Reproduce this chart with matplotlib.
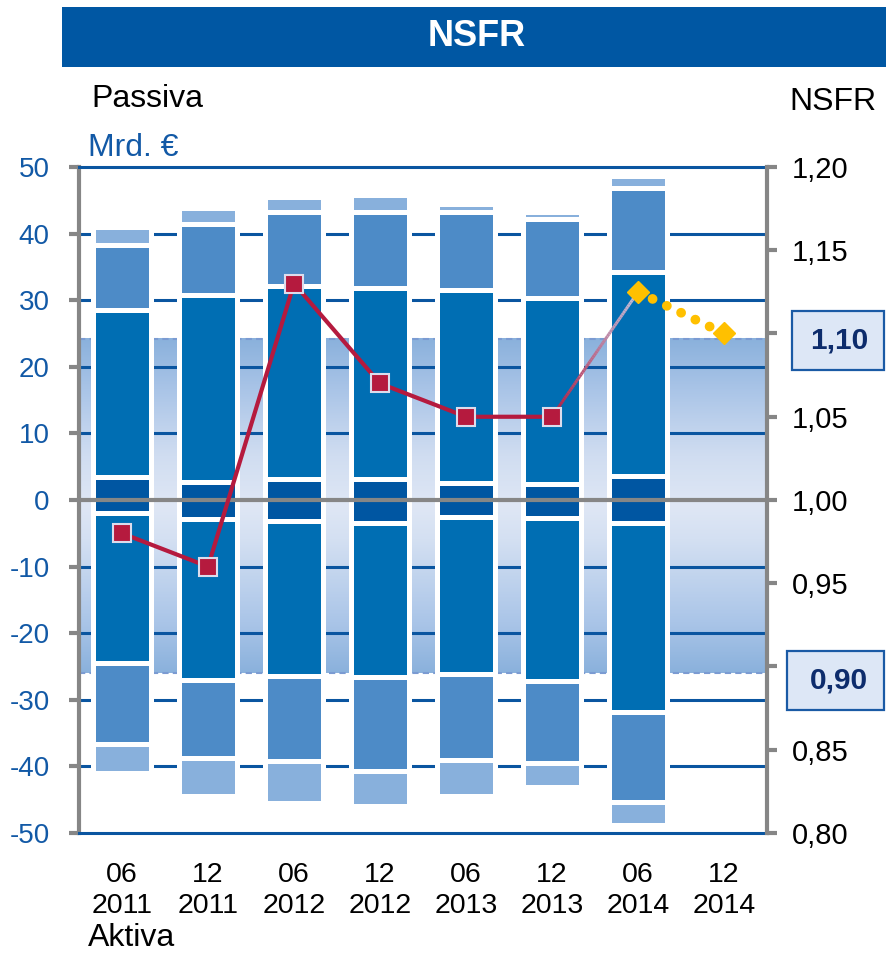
import matplotlib
matplotlib.use('Agg')
import matplotlib.pyplot as plt
import numpy as np
from matplotlib.colors import LinearSegmentedColormap, to_rgb
from matplotlib.collections import LineCollection
from matplotlib.patches import Rectangle

plt.rcParams['font.family'] = ['Liberation Sans', 'DejaVu Sans']
plt.rcParams['axes.unicode_minus'] = False

# --- data (Mrd. EUR) ---
periods = ['06\n2011', '12\n2011', '06\n2012', '12\n2012',
           '06\n2013', '12\n2013', '06\n2014', '12\n2014']

# Passiva, stacked upward from the dark core segment
pas_navy = [3.4, 2.7, 3.2, 3.2, 2.5, 2.35, 3.65]
pas_mid = [25.2, 28.1, 28.9, 28.6, 29.0, 27.95, 30.65]
pas_light = [9.7, 10.6, 11.1, 11.5, 11.8, 11.9, 12.6]
pas_pale = [2.7, 2.5, 2.3, 2.5, 1.1, 1.0, 1.8]

# Aktiva, stacked downward
akt_navy = [2.0, 2.9, 3.1, 3.4, 2.6, 2.7, 3.4]
akt_mid = [22.5, 24.1, 23.4, 23.2, 23.6, 24.55, 28.45]
akt_light = [12.2, 11.8, 12.7, 14.1, 12.8, 12.2, 13.55]
akt_pale = [4.3, 5.7, 6.3, 5.2, 5.4, 3.65, 3.4]

# NSFR ratio (right axis)
nsfr = [0.98, 0.96, 1.13, 1.07, 1.05, 1.05]
nsfr_fc = [1.125, 1.10]          # 06 2014 and 12 2014 (yellow)
band_top, band_bottom = 24.2, -26.0

# --- colours ---
c_navy = '#0056a2'
c_mid = '#006eb3'
c_light = '#4d8bc7'
c_pale = '#88b0dc'
c_grid = '#0a55a0'
c_gray = '#868686'
c_red = '#b51a3e'
c_yellow = '#ffc000'
c_blue_txt = '#1259a6'

W, H = 886, 956
fig = plt.figure(figsize=(W / 100, H / 100), dpi=100)

def fx(px):
    return px / W

def fy(py):
    return 1 - py / H

ax = fig.add_axes([fx(79), fy(833), (767 - 79) / W, (833 - 167) / H])
x = np.arange(len(periods))
xb = x[:len(pas_navy)]

# gradient band between the 0,90 and 1,10 marks
cmap = LinearSegmentedColormap.from_list('band', [
    (0.0, '#8ab1dc'), (0.15, '#aac5e8'), (0.4, '#d4e0f2'),
    (0.5, '#dfe7f5'), (0.65, '#d0ddf1'), (0.85, '#a9c4e7'), (1.0, '#8ab1dc')])
grad = np.linspace(0, 1, 256).reshape(-1, 1)
ax.imshow(grad, cmap=cmap, origin='lower', aspect='auto',
          extent=[-0.5, 7.5, band_bottom, band_top], zorder=0)
for yb in (band_top, band_bottom):
    ax.axhline(yb, color='#7b9bd2', lw=1.5, ls=(0, (3, 2)), zorder=0.5)

for g in range(-40, 50, 10):
    if g != 0:
        ax.axhline(g, color=c_grid, lw=2.2, zorder=1)

# bars
bw = 0.67
ekw = dict(width=bw, edgecolor='white', linewidth=3.6, zorder=2)
navy_bottom = -np.array(akt_navy)
ax.bar(xb, np.array(pas_navy) + np.array(akt_navy), bottom=navy_bottom, color=c_navy, **ekw)
b = np.array(pas_navy, dtype=float)
for vals, col in [(pas_mid, c_mid), (pas_light, c_light), (pas_pale, c_pale)]:
    ax.bar(xb, vals, bottom=b, color=col, **ekw)
    b = b + np.array(vals)
b = -np.array(akt_navy, dtype=float)
for vals, col in [(akt_mid, c_mid), (akt_light, c_light), (akt_pale, c_pale)]:
    ax.bar(xb, -np.array(vals), bottom=b, color=col, **ekw)
    b = b - np.array(vals)

ax.axhline(0, color=c_gray, lw=3, zorder=3)

ax.set_xlim(-0.5, 7.5)
ax.set_ylim(-50, 50)
ax.set_yticks(range(-50, 51, 10))
ax.set_xticks(x)
ax.set_xticklabels(periods, linespacing=1.25)
ax.tick_params(axis='x', length=0, pad=21, labelsize=20.5)
ax.tick_params(axis='y', direction='out', length=7, width=3, color=c_gray,
               labelcolor=c_blue_txt, labelsize=20, pad=14)
for s in ('top', 'bottom'):
    ax.spines[s].set_color(c_grid)
    ax.spines[s].set_linewidth(2.2)
ax.spines['left'].set_color(c_gray)
ax.spines['left'].set_linewidth(3)
ax.spines['right'].set_visible(False)

# right axis with NSFR
ax2 = ax.twinx()
ax2.set_ylim(0.80, 1.20)
rticks = np.round(np.arange(0.80, 1.2001, 0.05), 2)
ax2.set_yticks(rticks)
ax2.set_yticklabels(['' if t in (0.9, 1.1) else f'{t:.2f}'.replace('.', ',') for t in rticks])
ax2.tick_params(axis='y', direction='out', length=7, width=3, color=c_gray,
                labelcolor='black', labelsize=21, pad=11)
for s in ('top', 'bottom', 'left'):
    ax2.spines[s].set_visible(False)
ax2.spines['right'].set_color(c_gray)
ax2.spines['right'].set_linewidth(3)

# gradient connector from last actual point to the 06 2014 value
t = np.linspace(0, 1, 60)
gx = x[len(nsfr) - 1] + t
gy = nsfr[-1] + t * (nsfr_fc[0] - nsfr[-1])
pts = np.column_stack([gx, gy]).reshape(-1, 1, 2)
segs = np.concatenate([pts[:-1], pts[1:]], axis=1)
c0, c1 = np.array(to_rgb(c_red)), np.array(to_rgb('#c3c6e2'))
cols = [c0 + (c1 - c0) * v for v in t[:-1]]
ax2.add_collection(LineCollection(segs, colors=cols, linewidths=2.2, zorder=2))

ax2.plot(x[:len(nsfr)], nsfr, color=c_red, lw=3, marker='s', markersize=12.5,
         markerfacecolor=c_red, markeredgecolor='#dcdcec', markeredgewidth=1.5, zorder=3)
xf = x[len(nsfr):len(nsfr) + len(nsfr_fc)]
ax2.plot(xf, nsfr_fc, color=c_yellow, lw=7, ls=(1.6, (0.01, 1.62)),
         dash_capstyle='round', zorder=2)
ax2.plot(xf, nsfr_fc, ls='none', marker='D', markersize=11.5, color=c_yellow, zorder=4)

# boxed threshold labels
for y0, y1, x0, txt in [(311, 370, 792, '1,10'), (651, 710, 787, '0,90')]:
    fig.patches.append(Rectangle((fx(x0), fy(y1)), fx(884) - fx(x0), fy(y0) - fy(y1),
                                 transform=fig.transFigure, facecolor='#dde7f6',
                                 edgecolor='#1a5aa5', linewidth=1.6))
    fig.text(fx(839), fy((y0 + y1) / 2), txt, ha='center', va='center',
             fontsize=21.5, fontweight='bold', color='#0d2c6c')

# title bar
fig.patches.append(Rectangle((fx(62), fy(67)), 1 - fx(62), fy(7) - fy(67),
                             transform=fig.transFigure, facecolor='#0057a3', edgecolor='none'))
fig.text(fx(477), fy(37), 'NSFR', ha='center', va='center', fontsize=26,
         fontweight='bold', color='white')

fig.text(fx(91), fy(107), 'Passiva', ha='left', va='baseline', fontsize=23, color='black')
fig.text(fx(877), fy(110), 'NSFR', ha='right', va='baseline', fontsize=23, color='black')
fig.text(fx(88), fy(156), 'Mrd. €', ha='left', va='baseline', fontsize=23, color=c_blue_txt)
fig.text(fx(88), fy(946), 'Aktiva', ha='left', va='baseline', fontsize=23, color='black')

fig.savefig('out.png', dpi=100)
